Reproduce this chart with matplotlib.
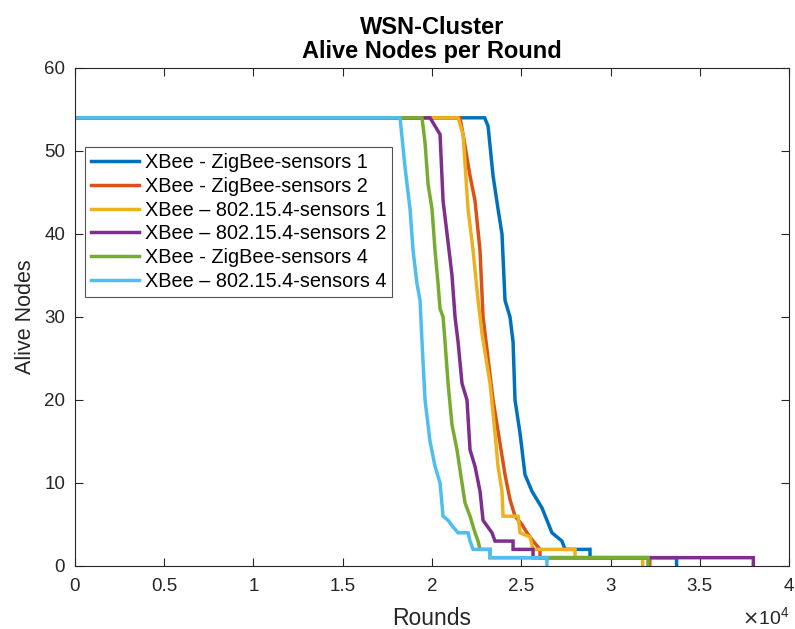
import matplotlib
matplotlib.use("Agg")
import matplotlib.pyplot as plt

plt.rcParams['font.family'] = ['Liberation Sans', 'DejaVu Sans']

# Alive nodes per round, breakpoints
zb1_x = [0, 22950, 23140, 23420, 23700, 23920, 24090, 24370, 24540, 24650, 24930, 25210, 25600, 26160, 26720, 27280, 27450, 28850, 28850, 33700, 33700]
zb1_y = [54, 54, 53, 47, 43, 40, 32, 30, 27, 20, 16, 11, 9, 7, 4, 3, 2, 2, 1, 1, 0]

zb2_x = [0, 21570, 21740, 22130, 22410, 22690, 22860, 23420, 24090, 24370, 24650, 25040, 25320, 25660, 26050, 26050, 32200, 32200]
zb2_y = [54, 54, 52, 47, 44, 38, 30, 20, 11, 8, 6, 5, 4, 3, 2, 1, 1, 0]

ie1_x = [0, 21460, 21740, 22020, 22300, 22580, 22800, 23250, 23530, 23700, 23920, 23980, 24820, 24930, 25490, 25660, 28010, 28010, 31800, 31800]
ie1_y = [54, 54, 52, 43, 38, 32, 28, 22, 16, 12, 9, 6, 6, 4, 3.5, 2, 2, 1, 1, 0]

ie2_x = [0, 19890, 20170, 20450, 20620, 20900, 21120, 21290, 21460, 21680, 21960, 22130, 22410, 22690, 22860, 23360, 23530, 24540, 24540, 25660, 25660, 38000, 38000]
ie2_y = [54, 54, 53, 52, 44, 39, 35, 30, 27, 22, 20, 14, 12, 9, 5.5, 4, 3, 3, 2, 2, 1, 1, 0]

zb4_x = [0, 19440, 19610, 19780, 20000, 20170, 20340, 20450, 20620, 20730, 20900, 21120, 21400, 21680, 21850, 22130, 22410, 22580, 22690, 23250, 23250, 32100, 32100]
zb4_y = [54, 54, 51, 46, 43, 38, 34, 31, 30, 27, 22, 17, 14, 10, 7.6, 6, 4, 3, 2, 2, 1, 1, 0]

ie4_x = [0, 18210, 18490, 18770, 18940, 19160, 19330, 19440, 19610, 19890, 20170, 20450, 20620, 20900, 21180, 21460, 22020, 22130, 22300, 23250, 23250, 26440, 26440]
ie4_y = [54, 54, 48, 43, 38, 34, 32, 27, 20, 15, 12, 10, 6, 5.5, 4.7, 4, 4, 3, 2, 2, 1, 1, 0]

labels = ['XBee - ZigBee-sensors 1', 'XBee - ZigBee-sensors 2',
          'XBee \u2013 802.15.4-sensors 1', 'XBee \u2013 802.15.4-sensors 2',
          'XBee - ZigBee-sensors 4', 'XBee \u2013 802.15.4-sensors 4']
colors = ['#0072BD', '#D95319', '#EDB120', '#7E2F8E', '#77AC30', '#4DBEEE']

xticks = [0, 5000, 10000, 15000, 20000, 25000, 30000, 35000, 40000]
xticklabels = ['0', '0.5', '1', '1.5', '2', '2.5', '3', '3.5', '4']
yticks = [0, 10, 20, 30, 40, 50, 60]

fig = plt.figure(figsize=(7.95, 6.29), dpi=100)
ax = fig.add_axes([0.0943, 0.1002, 0.8982, 0.7917])

series = [(zb1_x, zb1_y), (zb2_x, zb2_y), (ie1_x, ie1_y),
          (ie2_x, ie2_y), (zb4_x, zb4_y), (ie4_x, ie4_y)]
for (x, y), lab, c in zip(series, labels, colors):
    ax.plot(x, y, color=c, linewidth=2.5, label=lab, solid_joinstyle='miter')

ax.set_xlim(0, 40000)
ax.set_ylim(0, 60)
ax.set_xticks(xticks)
ax.set_xticklabels(xticklabels)
ax.set_yticks(yticks)
ax.tick_params(direction='in', top=True, right=True, labelsize=13.5, length=6,
               colors='#262626', labelcolor='#262626')
ax.tick_params(axis='x', pad=9)
ax.tick_params(axis='y', pad=7)
for s in ax.spines.values():
    s.set_color('#262626')
    s.set_linewidth(0.8)

ax.set_xlabel('Rounds', fontsize=16.5, color='#262626', labelpad=8)
ax.set_ylabel('Alive Nodes', fontsize=15.5, color='#262626', labelpad=6)
ax.set_title('WSN-Cluster\nAlive Nodes per Round', fontsize=17, fontweight='bold', pad=7, linespacing=1.05)
ax.text(1.0, -0.103, r'$\times\mathregular{10^4}$', transform=ax.transAxes,
        ha='right', va='center', fontsize=14, color='#262626')

leg = ax.legend(loc='upper left', bbox_to_anchor=(0.014, 0.841), fontsize=14.3,
                frameon=True, fancybox=False, edgecolor='#262626',
                handlelength=2.4, handletextpad=0.3, labelspacing=0.24,
                borderpad=0.3, borderaxespad=0)
leg.get_frame().set_linewidth(0.8)

fig.savefig('out.png', dpi=100)
